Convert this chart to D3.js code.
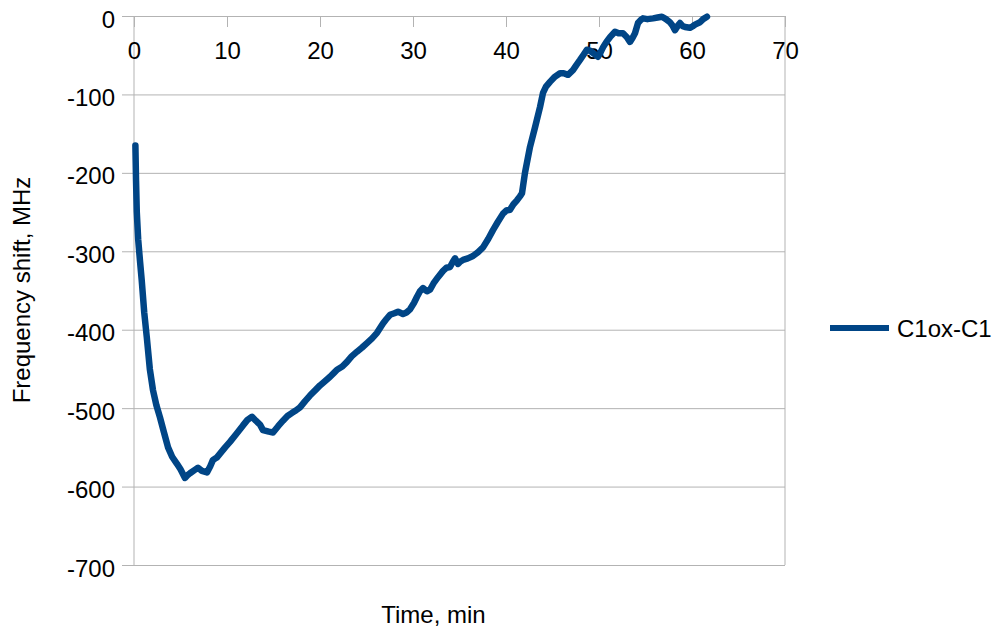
<!DOCTYPE html>
<html>
<head>
<meta charset="utf-8">
<script src="https://cdn.jsdelivr.net/npm/d3@7"></script>
<style>
  html, body { margin: 0; padding: 0; background: #fff; }
  svg { display: block; font-family: "Liberation Sans", Arial, sans-serif; }
</style>
</head>
<body>
<svg id="chart" width="1000" height="629"></svg>
<script>
// Time since start of measurement, minutes
const timeMin = [
  0.15, 0.22, 0.3, 0.45, 0.65, 0.83, 1.1, 1.37, 1.7, 2.04, 2.4, 2.8, 3.2, 3.66, 4.1, 4.62,
  5.0, 5.48, 5.8, 6.02, 6.5, 6.88, 7.3, 7.85, 8.2, 8.49, 8.9, 9.25, 9.8, 10.32, 11.0,
  11.72, 12.2, 12.69, 13.1, 13.55, 13.87, 14.5, 14.95, 15.5, 16.02, 16.5, 17.0, 17.4,
  17.85, 18.4, 18.92, 19.5, 20.0, 20.5, 21.08, 21.5, 21.83, 22.4, 22.9, 23.4, 23.98,
  24.5, 25.05, 25.6, 26.13, 26.77, 27.1, 27.53, 28.0, 28.39, 28.92, 29.3, 29.68, 30.1,
  30.43, 30.75, 31.08, 31.5, 31.83, 32.2, 32.69, 33.23, 33.6, 33.98, 34.3, 34.52, 34.84,
  35.1, 35.38, 35.9, 36.45, 37.0, 37.53, 38.1, 38.6, 39.1, 39.68, 40.05, 40.43, 40.8,
  41.18, 41.5, 41.72, 42.04, 42.58, 43.12, 43.66, 43.98, 44.3, 44.73, 45.2, 45.81, 46.2,
  46.67, 47.2, 47.6, 47.96, 48.3, 48.71, 49.0, 49.35, 49.89, 50.1, 50.43, 50.8, 51.18,
  51.72, 52.1, 52.58, 53.0, 53.33, 53.6, 53.87, 54.19, 54.5, 54.73, 55.2, 55.81, 56.3,
  56.77, 57.2, 57.63, 57.9, 58.17, 58.5, 58.71, 59.0, 59.25, 59.78, 60.1, 60.32, 60.86,
  61.2, 61.61
];

// Frequency shift of C1ox relative to C1, MHz
const shiftMHz = [
  -165, -210, -250, -285, -313, -337, -378, -409, -450, -477, -496, -512, -530, -550, -562, -571,
  -578, -589, -585, -583, -579, -576, -580, -582, -574, -566, -563, -558, -550, -543, -533,
  -522, -515, -511, -516, -521, -528, -530, -531, -523, -516, -510, -506, -503,
  -499, -491, -484, -477, -471, -466, -460, -455, -451, -447, -441, -434, -428,
  -423, -417, -411, -404, -392, -387, -381, -379, -377, -380, -378, -374, -366,
  -358, -351, -347, -351, -349, -341, -333, -325, -321, -320, -313, -309, -316,
  -313, -311, -309, -306, -301, -295, -284, -273, -263, -252, -248, -247, -240,
  -235, -230, -226, -200, -167, -142, -116, -98, -90, -84, -78, -73, -73,
  -75, -69, -62, -56, -50, -43, -44, -47, -52, -48, -40, -33, -27,
  -20, -22, -22, -27, -33, -28, -22, -9, -5, -3, -4, -3, -2,
  -1, -4, -8, -12, -18, -12, -9, -13, -14, -15, -13, -11, -8,
  -4, -1
];

const seriesName = "C1ox-C1";
const xTicks = [0, 10, 20, 30, 40, 50, 60, 70];
const yTicks = [0, -100, -200, -300, -400, -500, -600, -700];

const svg = d3.select("#chart");
const plot = { left: 134, right: 785, top: 16, bottom: 565 };
const gridColor = "#b3b3b3";
const lineColor = "#004586";

const x = d3.scaleLinear().domain([0, 70]).range([plot.left, plot.right]);
const y = d3.scaleLinear().domain([-700, 0]).range([plot.bottom, plot.top]);

// Horizontal gridlines with y-axis ticks and labels
const yAxis = d3.axisLeft(y).tickValues(yTicks).tickSize(12).tickFormat(d3.format("d"));
const gy = svg.append("g").attr("transform", `translate(${plot.left},0)`).call(yAxis);
gy.select(".domain").remove();
gy.selectAll(".tick line")
  .attr("x2", plot.right - plot.left)
  .attr("x1", -12)
  .attr("stroke", gridColor);
gy.selectAll(".tick text")
  .attr("x", -19)
  .attr("dy", null)
  .attr("y", 11)
  .attr("fill", "#000")
  .style("font-size", "24px")
  .style("font-family", "'Liberation Sans', Arial, sans-serif")
  .text(d => d === 0 ? "0" : String(d).replace("−", "-"));

// Vertical axis line and right plot border
svg.append("line")
  .attr("x1", x(0)).attr("x2", x(0))
  .attr("y1", y(0)).attr("y2", y(-700))
  .attr("stroke", gridColor);
svg.append("line")
  .attr("x1", x(70)).attr("x2", x(70))
  .attr("y1", y(0)).attr("y2", y(-700))
  .attr("stroke", gridColor);

// Time axis along the zero line, ticks pointing down
const xAxis = d3.axisBottom(x).tickValues(xTicks).tickSize(11).tickFormat(d3.format("d"));
const gx = svg.append("g").attr("transform", `translate(0,${y(0)})`).call(xAxis);
gx.select(".domain").remove();
gx.selectAll(".tick line").attr("stroke", gridColor);
gx.selectAll(".tick text")
  .attr("y", 43)
  .attr("dy", null)
  .attr("fill", "#000")
  .style("font-size", "24px")
  .style("font-family", "'Liberation Sans', Arial, sans-serif");

// Data line
const points = timeMin.map((t, i) => [t, shiftMHz[i]]);
const line = d3.line().x(d => x(d[0])).y(d => y(d[1]));
svg.append("path")
  .datum(points)
  .attr("d", line)
  .attr("fill", "none")
  .attr("stroke", lineColor)
  .attr("stroke-width", 6.5)
  .attr("stroke-linejoin", "round")
  .attr("stroke-linecap", "round");

// Axis titles
svg.append("text")
  .attr("transform", "translate(29.5,290) rotate(-90)")
  .attr("text-anchor", "middle")
  .style("font-size", "24px")
  .text("Frequency shift, MHz");

svg.append("text")
  .attr("x", 433.5)
  .attr("y", 622.5)
  .attr("text-anchor", "middle")
  .style("font-size", "24px")
  .text("Time, min");

// Legend
const legend = svg.append("g");
legend.append("line")
  .attr("x1", 830).attr("x2", 889)
  .attr("y1", 328).attr("y2", 328)
  .attr("stroke", lineColor)
  .attr("stroke-width", 6);
legend.append("text")
  .attr("x", 897)
  .attr("y", 336.5)
  .style("font-size", "24px")
  .text(seriesName);
</script>
</body>
</html>
